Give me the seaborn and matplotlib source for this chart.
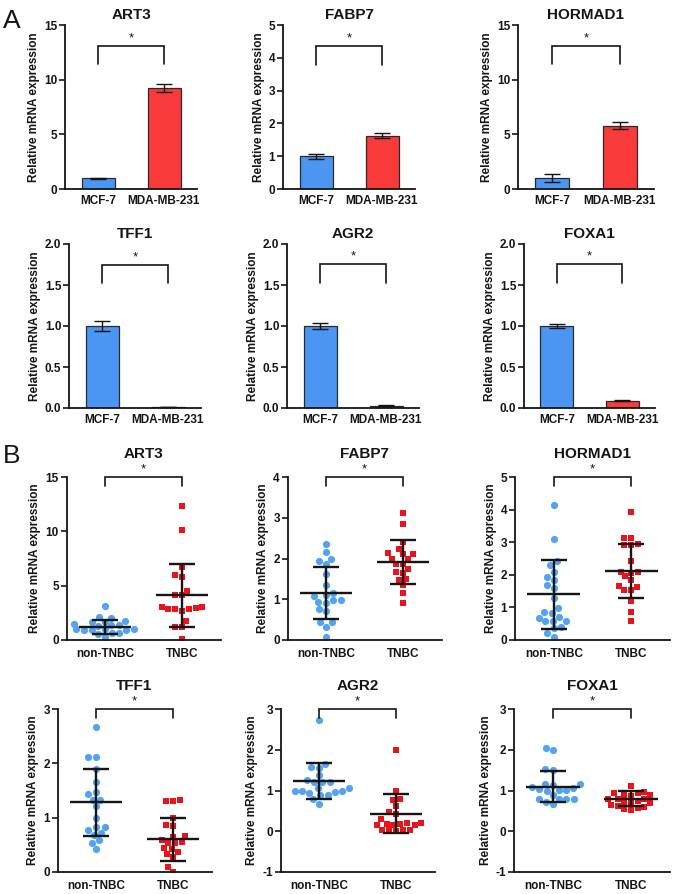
import numpy as np
import pandas as pd
import matplotlib
matplotlib.use("Agg")
import matplotlib.pyplot as plt
import seaborn as sns

# ---------------- data ----------------
cell_lines = ["MCF-7", "MDA-MB-231"]
groups = ["non-TNBC", "TNBC"]

# Panel A: relative mRNA expression in cell lines (mean, error)
art3_cell = [1.0, 9.25]
art3_cell_err = [0.05, 0.35]
fabp7_cell = [1.0, 1.63]
fabp7_cell_err = [0.08, 0.08]
hormad1_cell = [1.0, 5.8]
hormad1_cell_err = [0.35, 0.3]
tff1_cell = [1.0, 0.01]
tff1_cell_err = [0.06, 0.0]
agr2_cell = [1.0, 0.03]
agr2_cell_err = [0.04, 0.005]
foxa1_cell = [1.0, 0.09]
foxa1_cell_err = [0.025, 0.005]

# Panel B: tissue samples
art3_non = [3.1, 2.1, 2.05, 1.75, 1.7, 1.65, 1.45, 1.4, 1.35, 1.3,
            1.05, 1.0, 1.0, 0.95, 0.95, 0.9, 0.65, 0.6, 0.55, 0.3]
art3_tnbc = [12.35, 10.1, 6.7, 5.8, 5.96, 4.55, 4.1, 4.1, 3.07, 2.86,
             2.95, 2.67, 2.83, 2.83, 3.07, 1.72, 1.23, 1.23, 0.12]
fabp7_non = [2.35, 2.15, 2.0, 1.95, 1.87, 1.62, 1.34, 1.16, 1.1, 0.98,
             0.92, 0.94, 0.98, 1.08, 0.71, 0.75, 0.45, 0.45, 0.33, 0.08]
fabp7_tnbc = [3.11, 2.84, 2.4, 2.24, 2.1, 2.0, 2.1, 2.13, 1.86, 1.98,
              1.86, 1.75, 1.66, 1.64, 1.49, 1.48, 1.34, 1.15, 0.9]
hormad1_non = [4.15, 3.1, 2.43, 2.3, 2.1, 1.84, 1.93, 1.69, 1.61, 1.3,
               0.97, 0.85, 0.82, 0.72, 0.69, 0.59, 0.58, 0.59, 0.41, 0.36, 0.2, 0.08]
hormad1_tnbc = [3.94, 3.12, 3.12, 2.9, 2.9, 2.94, 2.43, 2.1, 2.07, 2.1,
                1.95, 1.84, 1.66, 1.64, 1.52, 1.52, 1.2, 0.87, 0.59]
tff1_non = [2.66, 2.11, 2.11, 1.89, 1.66, 1.48, 1.44, 1.33, 1.33, 1.21,
            1.0, 0.83, 0.82, 0.77, 0.68, 0.72, 0.58, 0.53, 0.42]
tff1_tnbc = [1.33, 1.31, 1.31, 1.0, 0.84, 0.87, 0.66, 0.65, 0.55, 0.53,
             0.58, 0.54, 0.44, 0.42, 0.36, 0.33, 0.28, 0.09, 0.0]
agr2_non = [2.73, 1.66, 1.57, 1.55, 1.37, 1.22, 1.2, 1.2, 1.25, 1.05,
            1.05, 1.0, 1.0, 1.0, 0.97, 0.95, 0.9, 0.88, 0.8, 0.68]
agr2_tnbc = [1.99, 0.99, 0.78, 0.76, 0.61, 0.48, 0.43, 0.19, 0.16, 0.19,
             0.2, 0.2, 0.15, 0.16, 0.04, 0.02, 0.04, 0.04, 0.0, 0.3]
foxa1_non = [2.05, 1.99, 1.52, 1.5, 1.17, 1.17, 1.13, 1.09, 1.02, 1.0,
             1.03, 1.07, 1.02, 0.8, 0.78, 0.8, 0.8, 0.66, 0.9, 0.72]
foxa1_tnbc = [1.1, 0.97, 0.93, 0.93, 0.9, 0.88, 0.87, 0.8, 0.8, 0.8,
              0.75, 0.72, 0.7, 0.7, 0.65, 0.62, 0.6, 0.58, 0.55, 0.52]

# mean and SD
art3_stats = [(1.2, 0.65), (4.1, 2.9)]
fabp7_stats = [(1.16, 0.64), (1.91, 0.54)]
hormad1_stats = [(1.4, 1.06), (2.12, 0.83)]
tff1_stats = [(1.28, 0.62), (0.6, 0.4)]
agr2_stats = [(1.23, 0.44), (0.43, 0.48)]
foxa1_stats = [(1.09, 0.38), (0.80, 0.19)]

# ---------------- style ----------------
sns.set_theme(style="ticks")
plt.rcParams['font.family'] = ['Liberation Sans', 'DejaVu Sans']
plt.rcParams['font.weight'] = 'bold'
plt.rcParams['axes.labelweight'] = 'bold'
plt.rcParams['axes.unicode_minus'] = False

BAR_BLUE = "#4A96F2"
BAR_RED = "#F83A3A"
PT_BLUE = "#55A3EE"
PT_RED = "#E8141C"
DARK = "#151515"

W, H = 677, 894
fig = plt.figure(figsize=(W / 100, H / 100), dpi=100)


def add_ax(l, t, r, b):
    return fig.add_axes([l / W, 1 - b / H, (r - l) / W, (b - t) / H])


def style_ax(ax, ylim, yticks, fmt=None, xpad=4):
    ax.set_ylim(*ylim)
    ax.set_yticks(yticks)
    if fmt:
        ax.set_yticklabels([fmt % v for v in yticks])
    ax.set_xlim(-0.5, 1.5)
    for s in ["top", "right"]:
        ax.spines[s].set_visible(False)
    for s in ["left", "bottom"]:
        ax.spines[s].set_linewidth(1.3)
        ax.spines[s].set_color(DARK)
    ax.tick_params(axis="y", length=4, width=1.2, labelsize=8.5, pad=1.5, color=DARK,
                   labelcolor=DARK)
    ax.tick_params(axis="x", length=0, labelsize=8.5, pad=xpad, labelcolor=DARK)
    for lab in ax.get_xticklabels() + ax.get_yticklabels():
        lab.set_fontweight("bold")
    ax.set_ylabel("Relative mRNA expression", fontsize=8.5, fontweight="bold",
                  labelpad=3, color=DARK)
    ax.set_xlabel("")


def bracket(ax, y_line, y_leg, star_off):
    ax.plot([0, 0, 1, 1], [y_leg, y_line, y_line, y_leg], color=DARK, lw=1.2,
            clip_on=False, solid_joinstyle="miter")
    ax.annotate("*", xy=(0.5, y_line), xytext=(0, star_off), textcoords="offset points",
                ha="center", va="bottom", fontsize=9.5, fontweight="normal", color=DARK,
                annotation_clip=False)


def bar_panel(rect, title, vals, errs, ylim, yticks, fmt, br):
    ax = add_ax(*rect)
    sns.barplot(x=cell_lines, y=vals, hue=cell_lines, palette=[BAR_BLUE, BAR_RED],
                width=0.5, edgecolor="#2a2a2a", linewidth=0.9, legend=False,
                saturation=1, errorbar=None, ax=ax)
    ax.errorbar([0, 1], vals, yerr=errs, fmt="none", ecolor=DARK, elinewidth=1.0,
                capsize=6, capthick=1.0, zorder=5)
    style_ax(ax, ylim, yticks, fmt)
    ax.set_title(title, fontsize=11, fontweight="bold", pad=4, color=DARK)
    bracket(ax, br[0], br[1], 1)
    return ax


def dot_panel(rect, title, non, tnbc, stats, ylim, yticks, br):
    ax = add_ax(*rect)
    sns.swarmplot(x=["non-TNBC"] * len(non), y=non, order=groups, color=PT_BLUE,
                  marker="o", size=5.2, linewidth=0, ax=ax, zorder=2)
    sns.swarmplot(x=["TNBC"] * len(tnbc), y=tnbc, order=groups, color=PT_RED,
                  marker="s", size=4.8, linewidth=0, ax=ax, zorder=2)
    for i, (m, sd) in enumerate(stats):
        ax.hlines(m, i - 0.34, i + 0.34, color=DARK, lw=1.7, zorder=4)
        ax.errorbar([i], [m], yerr=[sd], fmt="none", ecolor=DARK, elinewidth=1.7,
                    capsize=9.5, capthick=1.7, zorder=4)
    style_ax(ax, ylim, yticks, xpad=6)
    ax.set_title(title, fontsize=11, fontweight="bold", pad=14, color=DARK)
    bracket(ax, br[0], br[1], 1)
    return ax


# ---- Panel A ----
bar_panel((65, 25, 197, 189), "ART3", art3_cell, art3_cell_err, (0, 15), [0, 5, 10, 15], None, (13.1, 11.45))
bar_panel((283, 25, 415, 189), "FABP7", fabp7_cell, fabp7_cell_err, (0, 5), [0, 1, 2, 3, 4, 5], None, (4.36, 3.78))
bar_panel((518, 25, 654, 189), "HORMAD1", hormad1_cell, hormad1_cell_err, (0, 15), [0, 5, 10, 15], None, (13.1, 11.45))
bar_panel((69, 244, 201, 408), "TFF1", tff1_cell, tff1_cell_err, (0, 2), [0, 0.5, 1.0, 1.5, 2.0], "%.1f", (1.75, 1.52))
bar_panel((287, 244, 419, 408), "AGR2", agr2_cell, agr2_cell_err, (0, 2), [0, 0.5, 1.0, 1.5, 2.0], "%.1f", (1.76, 1.53))
bar_panel((524, 244, 655, 408), "FOXA1", foxa1_cell, foxa1_cell_err, (0, 2), [0, 0.5, 1.0, 1.5, 2.0], "%.1f", (1.76, 1.53))

# ---- Panel B ----
dot_panel((66.5, 477, 220.5, 640), "ART3", art3_non, art3_tnbc, art3_stats, (0, 15), [0, 5, 10, 15], (15, 14.2))
dot_panel((287.5, 477, 441.5, 640), "FABP7", fabp7_non, fabp7_tnbc, fabp7_stats, (0, 4), [0, 1, 2, 3, 4], (4, 3.77))
dot_panel((515, 477, 670, 640), "HORMAD1", hormad1_non, hormad1_tnbc, hormad1_stats, (0, 5), [0, 1, 2, 3, 4, 5], (5, 4.71))
dot_panel((57.5, 709, 211.5, 872), "TFF1", tff1_non, tff1_tnbc, tff1_stats, (0, 3), [0, 1, 2, 3], (3, 2.83))
dot_panel((280.5, 709, 434.5, 872), "AGR2", agr2_non, agr2_tnbc, agr2_stats, (-1, 3), [-1, 0, 1, 2, 3], (3, 2.77))
dot_panel((514, 709, 670, 872), "FOXA1", foxa1_non, foxa1_tnbc, foxa1_stats, (-1, 3), [-1, 0, 1, 2, 3], (3, 2.77))

fig.text(3 / W, 1 - 28 / H, "A", fontsize=19, fontweight="normal", ha="left", va="baseline", color=DARK)
fig.text(3 / W, 1 - 463 / H, "B", fontsize=19, fontweight="normal", ha="left", va="baseline", color=DARK)

fig.savefig("out.png", dpi=100)
